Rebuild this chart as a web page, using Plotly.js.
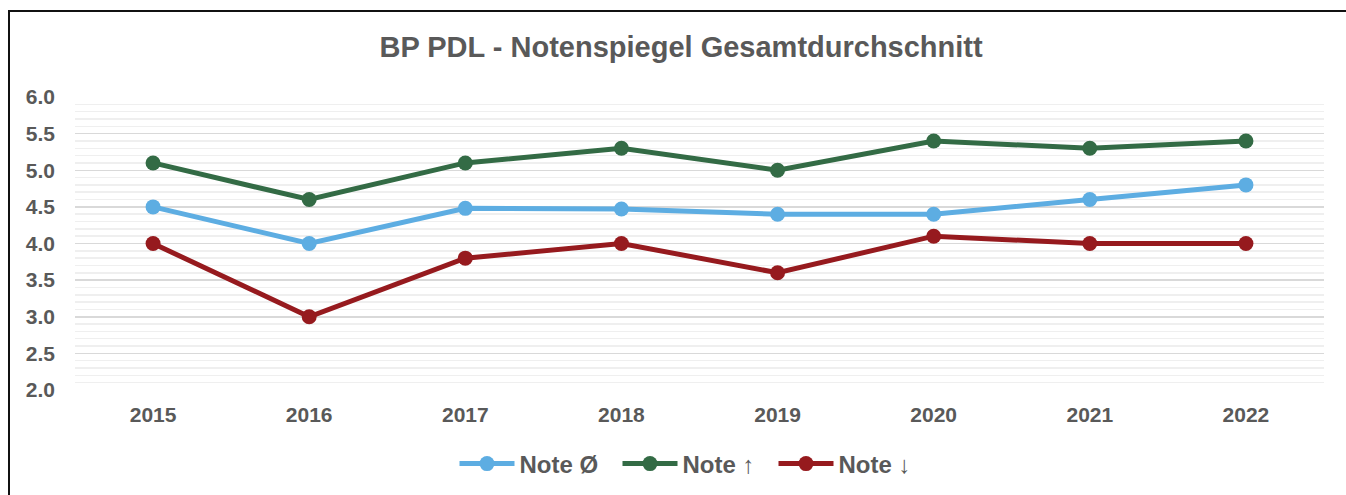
<!DOCTYPE html>
<html>
<head>
<meta charset="utf-8">
<script src="https://cdn.plot.ly/plotly-3.0.1.min.js"></script>
<style>
  html, body { margin: 0; padding: 0; background: #fff; overflow: hidden; }
  #chart { width: 1346px; height: 495px; position: absolute; left: 0; top: 0; }
  #frame { position: absolute; left: 8px; top: 10px; width: 1400px; height: 600px;
           border-left: 2px solid #111; border-top: 2px solid #111; pointer-events: none; }
</style>
</head>
<body>
<div id="chart"></div>
<div id="frame"></div>
<script>
const years = ['2015', '2016', '2017', '2018', '2019', '2020', '2021', '2022'];
const noteAvg = [4.5, 4.0, 4.48, 4.47, 4.4, 4.4, 4.6, 4.8];
const noteHigh = [5.1, 4.6, 5.1, 5.3, 5.0, 5.4, 5.3, 5.4];
const noteLow = [4.0, 3.0, 3.8, 4.0, 3.6, 4.1, 4.0, 4.0];
const seriesNames = ['Note Ø', 'Note ↑', 'Note ↓'];
const yTicks = [2.0, 2.5, 3.0, 3.5, 4.0, 4.5, 5.0, 5.5, 6.0];

const colors = ['#5DADE2', '#336B45', '#961A1E'];
const font = 'Liberation Sans, Arial, sans-serif';
const textColor = '#595959';

function trace(y, name, color, lw) {
  return {
    x: years, y: y, name: name, type: 'scatter', mode: 'lines+markers',
    line: { color: color, width: 5 },
    marker: { color: color, size: 15 },
    legendwidth: lw,
    hoverinfo: 'x+y+name'
  };
}

const data = [
  trace(noteAvg, seriesNames[0], colors[0], 93),
  trace(noteHigh, seriesNames[1], colors[1], 86),
  trace(noteLow, seriesNames[2], colors[2], 88)
];

const layout = {
  width: 1346, height: 495,
  margin: { l: 75, r: 22, t: 96.7, b: 105.3, pad: 0, autoexpand: false },
  paper_bgcolor: '#fff', plot_bgcolor: '#fff',
  font: { family: font, color: textColor },
  title: {
    text: '<b>BP PDL - Notenspiegel Gesamtdurchschnitt</b>',
    font: { family: font, size: 29, color: textColor },
    x: 0.506, xanchor: 'center', xref: 'container',
    y: 1 - 47 / 495, yanchor: 'middle', yref: 'container'
  },
  xaxis: {
    type: 'category', range: [-0.5, 7.5], showgrid: false, zeroline: false,
    showline: false, ticks: '',
    tickfont: { family: font, size: 21, color: textColor, weight: 'bold' },
    ticklabelstandoff: 10
  },
  yaxis: {
    range: [2, 6], tickvals: yTicks, ticktext: yTicks.map(v => v.toFixed(1)),
    showgrid: true, gridcolor: '#d9d9d9', gridwidth: 1.5, zeroline: false, showline: false,
    ticks: '',
    tickfont: { family: font, size: 21, color: textColor, weight: 'bold' },
    ticklabelstandoff: 19,
    minor: { dtick: 0.1, tick0: 2, showgrid: true, gridcolor: '#efefef', gridwidth: 1.5, ticks: '' }
  },
  showlegend: true,
  legend: {
    orientation: 'h', x: (693 - 75) / 1249, xanchor: 'center',
    y: (390 - 464) / 293, yanchor: 'middle',
    font: { family: font, size: 24, color: textColor, weight: 'bold' },
    itemwidth: 55,
    traceorder: 'normal', bgcolor: 'rgba(0,0,0,0)'
  }
};

Plotly.newPlot('chart', data, layout, { displayModeBar: false, staticPlot: true });
</script>
</body>
</html>
